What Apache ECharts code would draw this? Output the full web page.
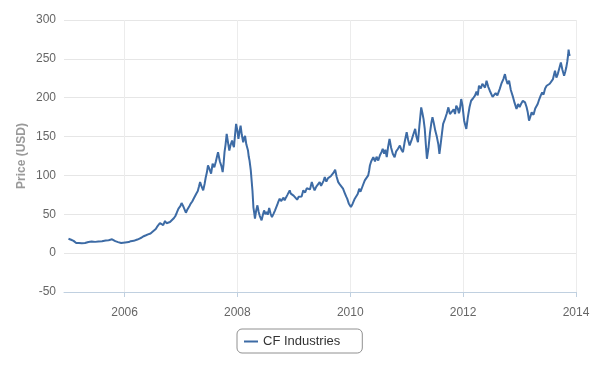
<!DOCTYPE html>
<html>
<head>
<meta charset="utf-8">
<script src="https://cdn.jsdelivr.net/npm/echarts@6/dist/echarts.min.js"></script>
<style>
  html, body { margin: 0; padding: 0; background: #fff; }
  #price-chart { width: 600px; height: 375px; }
</style>
</head>
<body>
<div id="price-chart"></div>
<script>
  // Data (approximate closes, one row per year)
  const dates = [
    '2005-01-03', '2005-01-12', '2005-01-20', '2005-01-28', '2005-02-05', '2005-02-14', '2005-02-22', '2005-03-03', '2005-03-12', '2005-03-20', '2005-03-30', '2005-04-10', '2005-04-20', '2005-05-01', '2005-05-12', '2005-05-20', '2005-06-02', '2005-06-14', '2005-06-25', '2005-07-05', '2005-07-15', '2005-07-26', '2005-08-08', '2005-08-20', '2005-09-01', '2005-09-10', '2005-09-20', '2005-10-01', '2005-10-12', '2005-10-22', '2005-11-02', '2005-11-12', '2005-11-20', '2005-12-01', '2005-12-10', '2005-12-20',
    '2006-01-05', '2006-01-15', '2006-01-28', '2006-02-10', '2006-02-20', '2006-03-01', '2006-03-12', '2006-03-25', '2006-04-08', '2006-04-22', '2006-05-05', '2006-05-20', '2006-06-02', '2006-06-18', '2006-07-01', '2006-07-12', '2006-07-22', '2006-07-30', '2006-08-08', '2006-08-18', '2006-08-28', '2006-09-08', '2006-09-20', '2006-09-30', '2006-10-12', '2006-10-22', '2006-11-01', '2006-11-14', '2006-11-25', '2006-12-05', '2006-12-16', '2006-12-28',
    '2007-01-05', '2007-01-14', '2007-01-22', '2007-02-02', '2007-02-10', '2007-02-18', '2007-02-26', '2007-03-05', '2007-03-15', '2007-03-24', '2007-04-01', '2007-04-10', '2007-04-20', '2007-04-28', '2007-05-05', '2007-05-15', '2007-05-25', '2007-06-03', '2007-06-10', '2007-06-18', '2007-06-25', '2007-07-05', '2007-07-15', '2007-07-25', '2007-08-05', '2007-08-15', '2007-08-22', '2007-08-29', '2007-09-10', '2007-09-20', '2007-09-28', '2007-10-04', '2007-10-10', '2007-10-17', '2007-10-24', '2007-11-02', '2007-11-10', '2007-11-18', '2007-11-28', '2007-12-05', '2007-12-10', '2007-12-17', '2007-12-24',
    '2008-01-01', '2008-01-08', '2008-01-15', '2008-01-22', '2008-01-30', '2008-02-08', '2008-02-14', '2008-02-20', '2008-02-28', '2008-03-10', '2008-03-15', '2008-03-20', '2008-03-28', '2008-04-03', '2008-04-08', '2008-04-14', '2008-04-19', '2008-04-24', '2008-05-02', '2008-05-10', '2008-05-18', '2008-05-25', '2008-06-01', '2008-06-06', '2008-06-14', '2008-06-22', '2008-06-30', '2008-07-08', '2008-07-16', '2008-07-25', '2008-08-03', '2008-08-12', '2008-08-22', '2008-09-01', '2008-09-08', '2008-09-15', '2008-09-22', '2008-10-01', '2008-10-10', '2008-10-18', '2008-10-26', '2008-11-02', '2008-11-12', '2008-11-20', '2008-11-28', '2008-12-05', '2008-12-12', '2008-12-20', '2008-12-30',
    '2009-01-10', '2009-01-22', '2009-02-01', '2009-02-10', '2009-02-20', '2009-03-03', '2009-03-15', '2009-03-25', '2009-04-05', '2009-04-15', '2009-04-27', '2009-05-05', '2009-05-15', '2009-05-26', '2009-06-05', '2009-06-17', '2009-06-26', '2009-07-05', '2009-07-12', '2009-07-20', '2009-07-30', '2009-08-10', '2009-08-18', '2009-08-28', '2009-09-05', '2009-09-15', '2009-09-25', '2009-10-05', '2009-10-15', '2009-10-25', '2009-11-05', '2009-11-15', '2009-11-25', '2009-12-05', '2009-12-12', '2009-12-22',
    '2010-01-05', '2010-01-15', '2010-01-30', '2010-02-08', '2010-02-18', '2010-02-28', '2010-03-08', '2010-03-15', '2010-03-25', '2010-04-05', '2010-04-15', '2010-04-27', '2010-05-03', '2010-05-08', '2010-05-16', '2010-05-30', '2010-06-10', '2010-06-20', '2010-07-01', '2010-07-12', '2010-07-22', '2010-07-30', '2010-08-08', '2010-08-16', '2010-08-25', '2010-09-03', '2010-09-12', '2010-09-22', '2010-10-03', '2010-10-15', '2010-10-25', '2010-11-05', '2010-11-18', '2010-11-28', '2010-12-08', '2010-12-18',
    '2011-01-01', '2011-01-10', '2011-01-20', '2011-02-01', '2011-02-12', '2011-02-25', '2011-03-05', '2011-03-15', '2011-03-24', '2011-04-05', '2011-04-12', '2011-04-20', '2011-04-28', '2011-05-05', '2011-05-12', '2011-05-22', '2011-06-01', '2011-06-10', '2011-06-17', '2011-06-26', '2011-07-05', '2011-07-15', '2011-07-25', '2011-08-01', '2011-08-10', '2011-08-18', '2011-08-25', '2011-09-05', '2011-09-18', '2011-09-28', '2011-10-08', '2011-10-20', '2011-11-01', '2011-11-10', '2011-11-18', '2011-11-28', '2011-12-05', '2011-12-10', '2011-12-20', '2011-12-28',
    '2012-01-08', '2012-01-15', '2012-01-22', '2012-02-01', '2012-02-12', '2012-02-22', '2012-03-05', '2012-03-18', '2012-03-28', '2012-04-05', '2012-04-13', '2012-04-25', '2012-05-05', '2012-05-12', '2012-05-22', '2012-06-01', '2012-06-12', '2012-06-22', '2012-07-01', '2012-07-10', '2012-07-20', '2012-07-30', '2012-08-10', '2012-08-25', '2012-09-05', '2012-09-18', '2012-09-28', '2012-10-05', '2012-10-15', '2012-10-25', '2012-11-05', '2012-11-20', '2012-11-30', '2012-12-12', '2012-12-22',
    '2013-01-01', '2013-01-10', '2013-01-22', '2013-02-05', '2013-02-15', '2013-02-22', '2013-03-03', '2013-03-12', '2013-03-20', '2013-04-01', '2013-04-12', '2013-04-28', '2013-05-08', '2013-05-18', '2013-05-27', '2013-06-05', '2013-06-15', '2013-06-25', '2013-07-05', '2013-07-15', '2013-07-27', '2013-08-05', '2013-08-12', '2013-08-18', '2013-08-27', '2013-09-05', '2013-09-15', '2013-09-25', '2013-10-05', '2013-10-16', '2013-10-23', '2013-10-30', '2013-11-06', '2013-11-11', '2013-11-14', '2013-11-18', '2013-11-22'
  ]
  const prices = [
    18.5, 16.8, 17.2, 15.5, 15.8, 14.2, 13.0, 12.4, 12.9, 11.5, 12.6, 14.1, 13.0, 13.6, 14.4, 14.0, 14.9, 14.2, 14.5, 15.3, 15.0, 15.9, 15.4, 16.2, 16.4, 15.6, 16.6, 16.2, 17.8, 16.4, 15.4, 16.0, 14.2, 13.6, 13.0, 14.0,
    13.8, 14.6, 14.2, 15.4, 15.0, 15.8, 16.9, 17.5, 18.8, 20.1, 21.8, 23.0, 24.2, 25.3, 27.5, 29.0, 31.0, 33.7, 32.5, 38.8, 36.5, 36.0, 41.4, 38.5, 38.1, 40.0, 41.0, 44.5, 47.5, 52.0, 57.3, 60.5,
    64.5, 61.0, 58.5, 52.0, 55.5, 58.0, 61.0, 63.7, 66.5, 70.0, 72.2, 76.5, 80.0, 86.0, 91.4, 85.5, 80.8, 89.0, 97.0, 104.0, 112.8, 108.0, 102.2, 115.0, 110.6, 118.0, 124.0, 129.9, 118.0, 112.0, 104.2, 115.0, 130.0, 140.0, 153.4, 142.0, 132.0, 139.0, 145.0, 139.0, 136.3, 152.0, 166.3,
    158.0, 147.0, 156.0, 164.1, 152.0, 142.7, 148.0, 151.0, 140.0, 132.0, 124.0, 119.0, 106.4, 92.0, 80.0, 59.0, 52.0, 44.5, 55.0, 61.5, 53.0, 48.0, 50.5, 42.3, 49.0, 55.0, 50.0, 52.9, 49.5, 58.0, 51.0, 46.5, 50.5, 55.1, 53.0, 62.0, 66.0, 70.1, 67.0, 66.0, 71.5, 67.9, 72.0, 75.0, 73.0, 80.8, 76.5, 78.6, 74.0,
    71.5, 68.8, 72.5, 75.0, 73.0, 80.8, 78.0, 83.5, 85.0, 82.0, 91.4, 86.0, 80.8, 85.5, 88.0, 91.4, 86.5, 88.0, 93.0, 97.8, 92.0, 96.5, 95.8, 99.0, 100.0, 103.5, 107.3, 98.0, 91.4, 88.5, 86.0, 82.9, 78.0, 73.0, 70.1, 64.0,
    59.4, 63.0, 70.1, 68.0, 76.0, 82.9, 79.0, 80.8, 88.0, 93.6, 96.0, 100.0, 106.0, 112.8, 118.0, 123.5, 118.0, 124.0, 119.2, 126.0, 130.0, 134.2, 128.0, 133.0, 123.5, 137.0, 147.0, 136.0, 128.0, 123.5, 131.0, 134.0, 138.5, 133.0, 129.9, 142.0,
    155.5, 146.0, 138.5, 145.0, 152.0, 159.9, 150.0, 142.7, 163.0, 187.6, 181.0, 172.7, 160.0, 140.0, 121.4, 135.0, 155.0, 168.0, 174.8, 167.0, 157.7, 150.0, 140.0, 127.8, 142.0, 155.0, 166.3, 172.0, 180.0, 187.6, 179.0, 181.1, 185.0, 179.0, 189.7, 186.0, 180.0, 183.3, 198.3, 190.0,
    170.5, 165.0, 159.9, 175.0, 188.0, 196.1, 199.0, 202.6, 208.0, 203.0, 215.4, 212.0, 218.0, 219.6, 213.0, 221.8, 214.0, 209.0, 206.8, 201.0, 200.4, 206.0, 203.0, 211.1, 218.0, 224.0, 230.4, 224.0, 217.6, 222.0, 210.0, 200.4, 193.0, 185.5, 192.0,
    188.0, 191.9, 196.0, 194.0, 188.0, 182.0, 170.5, 176.0, 181.1, 178.0, 186.0, 191.9, 198.0, 203.0, 206.8, 204.0, 212.0, 215.4, 213.0, 218.0, 219.6, 224.0, 230.0, 234.6, 226.0, 230.4, 238.0, 245.3, 236.0, 228.2, 233.0, 238.8, 247.0, 255.0, 262.0, 256.0, 253.8
  ]
  const tickYears = ['2006', '2008', '2010', '2012', '2014']
  const seriesName = 'CF Industries'

  const toTime = s => new Date(s + 'T00:00:00Z').getTime()
  const seriesData = dates.map((d, i) => [toTime(d), prices[i]])
  const tickValues = tickYears.map(y => toTime(y + '-01-01'))

  const fontFamily = '"Liberation Sans", Arial, sans-serif'

  const option = {
    backgroundColor: '#fff',
    animation: false,
    textStyle: { fontFamily: fontFamily },
    grid: { left: 64, right: 24, top: 20, bottom: 83, containLabel: false },
    legend: {
      data: [seriesName],
      left: 237,
      top: 329,
      padding: [6, 22, 5, 7],
      borderColor: '#909090',
      borderWidth: 1,
      borderRadius: 5,
      icon: 'rect',
      itemWidth: 14,
      itemHeight: 2,
      itemGap: 5,
      textStyle: { color: '#333', fontSize: 13, fontFamily: fontFamily }
    },
    xAxis: {
      type: 'value',
      min: toTime('2004-12-05'),
      max: toTime('2014-01-01'),
      axisLine: { show: true, onZero: false, lineStyle: { color: '#c0d0e0', width: 1 } },
      axisTick: {
        show: true,
        length: 5,
        customValues: tickValues,
        lineStyle: { color: '#c0d0e0' }
      },
      axisLabel: {
        customValues: tickValues,
        formatter: v => String(new Date(v).getUTCFullYear()),
        color: '#666',
        fontSize: 12,
        margin: 15,
        fontFamily: fontFamily
      },
      splitLine: { show: true, lineStyle: { color: '#ececec', width: 1 } }
    },
    yAxis: {
      type: 'value',
      min: -50,
      max: 300,
      interval: 50,
      name: 'Price (USD)',
      nameLocation: 'middle',
      nameGap: 36,
      nameMoveOverlap: false,
      nameTextStyle: { color: '#9a9a9a', fontSize: 12, fontWeight: 'bold', fontFamily: fontFamily },
      axisLine: { show: false },
      axisTick: { show: false },
      axisLabel: { color: '#666', fontSize: 12, margin: 8, fontFamily: fontFamily },
      splitLine: { lineStyle: { color: '#e6e6e6', width: 1 } }
    },
    series: [{
      name: seriesName,
      type: 'line',
      showSymbol: false,
      symbol: 'none',
      data: seriesData,
      lineStyle: { color: '#3d6ba5', width: 2 },
      itemStyle: { color: '#3d6ba5' }
    }]
  }

  const priceChart = echarts.init(document.getElementById('price-chart'))
  priceChart.setOption(option)
</script>
</body>
</html>
